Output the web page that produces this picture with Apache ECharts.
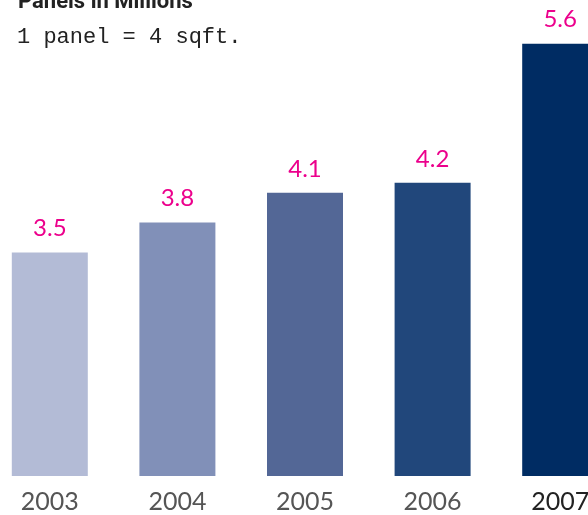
<!DOCTYPE html>
<html>
<head>
<meta charset="utf-8">
<script src="https://cdn.jsdelivr.net/npm/echarts@6/dist/echarts.min.js"></script>
<style>
html,body{margin:0;padding:0;background:#fff;overflow:hidden;width:588px;height:515px;}
#chart{position:absolute;left:-14px;top:0;width:638px;height:515px;}
</style>
</head>
<body>
<div id="chart"></div>
<script>
const categories = ['2003', '2004', '2005', '2006', '2007'];
const values = [3.5, 3.8, 4.1, 4.2, 5.6];
const barColors = ['#b3bbd6', '#8190b8', '#536796', '#21477b', '#002c63'];
const labelColors = ['#555555', '#555555', '#555555', '#555555', '#222222'];

const chart = echarts.init(document.getElementById('chart'));
chart.setOption({
  animation: false,
  title: [
    {
      text: 'Panels in Millions',
      left: 27, top: -14,
      textStyle: { fontFamily: 'Roboto, sans-serif', fontSize: 22, fontWeight: 'bold', color: '#222' }
    },
    {
      text: '1 panel = 4 sqft.',
      left: 26, top: 21,
      textStyle: { fontFamily: "'Courier New', 'Liberation Mono', monospace", fontSize: 22, fontWeight: 'normal', color: '#222' }
    }
  ],
  grid: { left: 0, right: 0, top: 0, bottom: 39, containLabel: false },
  xAxis: {
    type: 'category',
    data: categories,
    axisLine: { show: false },
    axisTick: { show: false },
    axisLabel: {
      margin: 13,
      fontSize: 25,
      fontFamily: 'Lato, "Open Sans", sans-serif',
      color: function (v, i) { return labelColors[i]; }
    }
  },
  yAxis: {
    type: 'value',
    min: 1.25,
    max: 6.04,
    show: false,
    splitLine: { show: false }
  },
  series: [{
    type: 'bar',
    barWidth: 76,
    data: values.map((v, i) => ({ value: v, itemStyle: { color: barColors[i] } })),
    label: {
      show: true,
      position: 'top',
      distance: 12,
      fontSize: 24,
      fontFamily: 'Lato, "Open Sans", sans-serif',
      color: '#ec008c',
      formatter: p => p.value.toFixed(1)
    }
  }]
});
</script>
</body>
</html>
